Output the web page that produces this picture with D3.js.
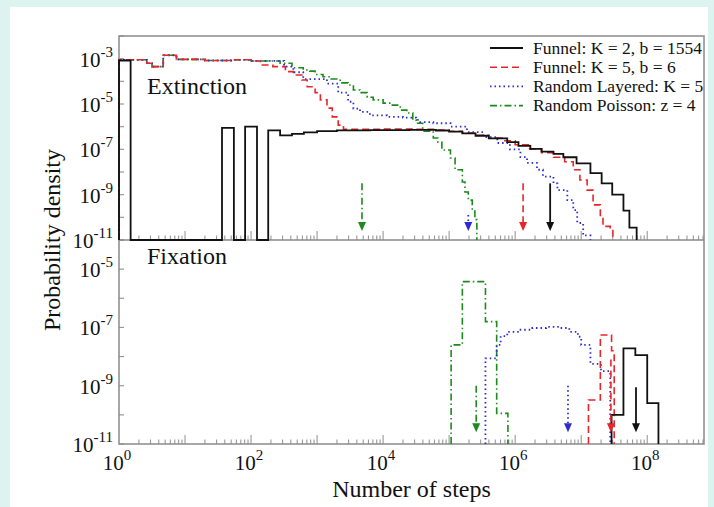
<!DOCTYPE html>
<meta charset="utf-8">
<script src="https://d3js.org/d3.v7.min.js"></script>
<style>
  body { margin: 0; background: #dcf3f0; }
  text { font-family: "Liberation Serif", "Times New Roman", serif; fill: #111; }
</style>
<div id="chart"></div>
<script>
// values, as [log10(steps) at left bin edge, log10(density)]
// null density = empty bin; the last pair gives the right edge of the histogram
var startPlateau = [[0, -3.05], [0.42, -3.2], [0.5, -3.35], [0.67, -2.85], [0.87, -3.03], [1.3, -3.08], [1.7, -3.05], [2.0, -3.1]];

var extFunnelK2 = [[0, -3.08], [0.176, null], [1.56, -6.05], [1.74, null], [1.91, -6.0], [2.09, null],
  [2.26, -6.16], [2.44, -6.38], [2.62, -6.32], [2.8, -6.25], [3.0, -6.2], [3.3, -6.16], [3.8, -6.15],
  [4.4, -6.14], [4.8, -6.17], [5.0, -6.22], [5.2, -6.3], [5.4, -6.4], [5.6, -6.52], [5.88, -6.68],
  [6.05, -6.85], [6.23, -6.98], [6.4, -7.1], [6.58, -7.2], [6.73, -7.35], [6.93, -7.62], [7.14, -8.05],
  [7.31, -8.5], [7.47, -9.0], [7.64, -9.7], [7.73, -10.45], [7.84, null]];
var extFunnelK5 = startPlateau.concat([[2.14, -3.28], [2.33, -3.35], [2.52, -3.57], [2.64, -3.72], [2.77, -3.94],
  [2.85, -4.24], [2.97, -4.5], [3.05, -4.82], [3.15, -5.18], [3.23, -5.57], [3.32, -5.93], [3.4, -6.12],
  [4.0, -6.1], [4.5, -6.12], [4.8, -6.15], [5.0, -6.2], [5.2, -6.28], [5.4, -6.38], [5.6, -6.5], [5.8, -6.62],
  [6.0, -6.8], [6.2, -6.98], [6.4, -7.15], [6.58, -7.35], [6.75, -7.55], [6.88, -7.9], [6.98, -8.35],
  [7.09, -8.8], [7.18, -9.45], [7.29, -10.0], [7.33, -10.4], [7.44, -10.5], [7.48, null]]);
var extLayered = startPlateau.concat([[2.5, -3.35], [2.64, -3.6], [2.79, -3.9], [3.15, -4.1], [3.32, -4.5],
  [3.47, -4.9], [3.55, -5.2], [3.65, -5.35], [3.8, -5.5], [4.06, -5.57], [4.3, -5.6], [4.5, -5.7],
  [4.56, -5.8], [4.76, -5.85], [5.02, -6.0], [5.27, -6.24], [5.52, -6.46], [5.73, -6.72], [5.92, -7.0],
  [6.08, -7.34], [6.18, -7.6], [6.33, -7.9], [6.42, -8.2], [6.58, -8.5], [6.64, -8.8], [6.79, -9.24],
  [6.88, -9.68], [6.94, -10.25], [7.03, -10.8], [7.14, null]]);
var extPoisson = startPlateau.concat([[2.33, -3.1], [2.44, -3.2], [2.62, -3.4], [2.79, -3.5], [2.89, -3.55],
  [2.97, -3.7], [3.09, -3.8], [3.2, -3.9], [3.35, -4.07], [3.47, -4.16], [3.55, -4.38], [3.65, -4.5],
  [3.76, -4.7], [3.85, -4.82], [4.0, -4.96], [4.14, -5.05], [4.26, -5.27], [4.36, -5.4], [4.45, -5.7],
  [4.5, -5.85], [4.6, -6.2], [4.76, -6.5], [4.83, -6.68], [4.89, -7.03], [5.02, -7.38], [5.09, -7.9],
  [5.2, -8.44], [5.24, -8.88], [5.29, -9.24], [5.35, -9.68], [5.39, -10.1], [5.42, null]]);

var fixFunnelK2 = [[7.46, -10.0], [7.64, -7.72], [7.82, -7.95], [8.0, -9.6], [8.17, null]];
var fixFunnelK5 = [[7.11, -9.49], [7.29, -7.26], [7.46, -7.8], [7.5, null]];
var fixLayered = [[5.55, -8.06], [5.72, -7.6], [5.78, -7.3], [5.88, -7.15], [6.06, -7.08], [6.26, -7.02],
  [6.47, -6.98], [6.67, -7.02], [6.82, -7.15], [6.95, -7.32], [7.0, -7.6], [7.14, -8.25], [7.3, -8.5], [7.44, null]];
var fixPoisson = [[5.03, -7.6], [5.2, -5.43], [5.55, -6.8], [5.72, -9.95], [5.89, null]];

// mean-time arrows: [log10(steps), log10(density) at the top of the arrow]
var extArrows = [[6.53, -8.5], [6.12, -8.5], [5.29, -9.9], [3.68, -8.5]];
var fixArrows = [[7.83, -9.05], [7.45, -8.1], [6.8, -9.0], [5.41, -9.0]];

var seriesNames = ["Funnel: K = 2, b = 1554", "Funnel: K = 5, b = 6", "Random Layered: K = 5", "Random Poisson: z = 4"];
var extTicks = [-3, -5, -7, -9, -11];
var fixTicks = [-5, -7, -9, -11];
var xLabelExps = [0, 2, 4, 6, 8];

var styles = [
  {color: "#111", dash: null, width: 1.8},
  {color: "#e8262a", dash: "7,4", width: 1.6},
  {color: "#2b2bd0", dash: "1.5,3", width: 1.8},
  {color: "#1c8a1c", dash: "7,3,1.5,3", width: 1.6}
];

var W = 714, H = 507;
var plotL = 119, plotR = 704, plotT = 36, plotM = 240, plotB = 444;

var svg = d3.select("#chart").append("svg")
  .attr("width", W).attr("height", H);

svg.append("rect").attr("x", 10).attr("y", 7).attr("width", 698).attr("height", 500).attr("fill", "#fff");

var x = d3.scaleLog().domain([1, Math.pow(10, 8.86)]).range([plotL, plotR]);
var yExt = d3.scaleLog().domain([1e-11, 1e-2]).range([plotM, plotT]);
var yFix = d3.scaleLog().domain([1e-11, 1e-4]).range([plotB, plotM]);

function drawAxes(y, y0, labels) {
  var g = svg.append("g");
  // decade ticks on the left side
  d3.range(-11, Math.log10(y.domain()[1]) + 0.01).forEach(function(e) {
    var yy = y(Math.pow(10, e));
    g.append("line").attr("x1", plotL).attr("x2", plotL + 5).attr("y1", yy).attr("y2", yy)
      .attr("stroke", "#999").attr("stroke-width", 1.2);
  });
  // x ticks along the panel bottom
  d3.range(0, 9).forEach(function(n) {
    d3.range(1, 10).forEach(function(k) {
      var v = k * Math.pow(10, n);
      if (v > x.domain()[1] || v === 1) return;
      var len = k === 1 ? 9 : 4.5;
      g.append("line").attr("x1", x(v)).attr("x2", x(v)).attr("y1", y0).attr("y2", y0 - len)
        .attr("stroke", "#999").attr("stroke-width", 1.1);
    });
  });
  labels.forEach(function(e) {
    var t = g.append("text").attr("x", 113).attr("y", y(Math.pow(10, e)) + 8)
      .attr("text-anchor", "end").style("font-size", "21px");
    t.append("tspan").text("10");
    t.append("tspan").attr("dy", -10).style("font-size", "15px").text(String(e).replace("-", "\u2011"));
  });
}

drawAxes(yExt, plotM, extTicks);
drawAxes(yFix, plotB, fixTicks);

// frame
svg.append("rect").attr("x", plotL).attr("y", plotT).attr("width", plotR - plotL).attr("height", plotB - plotT)
  .attr("fill", "none").attr("stroke", "#8a8a8a").attr("stroke-width", 1.5);
svg.append("line").attr("x1", plotL).attr("x2", plotR).attr("y1", plotM).attr("y2", plotM)
  .attr("stroke", "#8a8a8a").attr("stroke-width", 1.5);

function drawHist(bins, y, st) {
  var floor = y.domain()[0];
  var pts = [[bins[0][0], null]].concat(bins);
  var line = d3.line()
    .x(function(d) { return x(Math.pow(10, d[0])); })
    .y(function(d) { return d[1] === null ? y(floor) : y(Math.pow(10, d[1])); })
    .curve(d3.curveStepAfter);
  svg.append("path").datum(pts).attr("d", line)
    .attr("fill", "none").attr("stroke", st.color).attr("stroke-width", st.width)
    .attr("stroke-dasharray", st.dash);
}

function drawArrow(a, y, st) {
  var xx = x(Math.pow(10, a[0]));
  var tip = y(Math.pow(10, -10.6));
  svg.append("line").attr("x1", xx).attr("x2", xx).attr("y1", y(Math.pow(10, a[1]))).attr("y2", tip - 8)
    .attr("stroke", st.color).attr("stroke-width", st.width).attr("stroke-dasharray", st.dash);
  svg.append("path").attr("d", "M" + (xx - 4) + "," + (tip - 9) + "L" + (xx + 4) + "," + (tip - 9) + "L" + xx + "," + tip + "Z")
    .attr("fill", st.color);
}

// draw order: poisson, layered, funnel K=5, then funnel K=2 on top
drawHist(extPoisson, yExt, styles[3]);
drawHist(extLayered, yExt, styles[2]);
drawHist(extFunnelK5, yExt, styles[1]);
drawHist(extFunnelK2, yExt, styles[0]);
drawHist(fixPoisson, yFix, styles[3]);
drawHist(fixLayered, yFix, styles[2]);
drawHist(fixFunnelK5, yFix, styles[1]);
drawHist(fixFunnelK2, yFix, styles[0]);
extArrows.forEach(function(a, i) { drawArrow(a, yExt, styles[i]); });
fixArrows.forEach(function(a, i) { drawArrow(a, yFix, styles[i]); });

// panel titles
svg.append("text").attr("x", 147).attr("y", 94).style("font-size", "24px").text("Extinction");
svg.append("text").attr("x", 147).attr("y", 264).style("font-size", "24px").text("Fixation");

// x tick labels
xLabelExps.forEach(function(e) {
  var t = svg.append("text").attr("x", x(Math.pow(10, e)) - 2).attr("y", 470)
    .attr("text-anchor", "middle").style("font-size", "21px");
  t.append("tspan").text("10");
  t.append("tspan").attr("dy", -10).style("font-size", "15px").text(e);
});

svg.append("text").attr("x", (plotL + plotR) / 2).attr("y", 497).attr("text-anchor", "middle")
  .style("font-size", "24px").text("Number of steps");
svg.append("text").attr("transform", "translate(60," + plotM + ") rotate(-90)").attr("text-anchor", "middle")
  .style("font-size", "24px").text("Probability density");

// legend
var legend = svg.append("g");
seriesNames.forEach(function(name, i) {
  var ly = 48 + i * 19.2;
  legend.append("line").attr("x1", 490).attr("x2", 523).attr("y1", ly).attr("y2", ly)
    .attr("stroke", styles[i].color).attr("stroke-width", styles[i].width).attr("stroke-dasharray", styles[i].dash);
  legend.append("text").attr("x", 533).attr("y", ly + 5.5).style("font-size", "17.5px").text(name);
});
</script>
